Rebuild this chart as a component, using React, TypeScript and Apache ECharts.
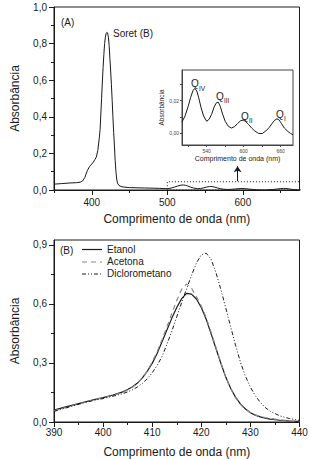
import React, { useEffect, useRef } from "react";
import * as echarts from "echarts";

// ---- Panel (A): full spectrum ----
const mainWavelength = [350, 360, 370, 380, 385, 388, 391, 394, 397, 400, 402, 404, 406, 408, 410, 411, 412, 413, 414, 415, 416, 417, 418, 419, 420, 421, 422, 423, 424, 425, 426, 427, 428, 429, 430, 431, 432, 433, 434, 436, 440, 450, 470, 490];
const mainAbsorbance = [0.032, 0.035, 0.038, 0.04, 0.043, 0.05, 0.07, 0.105, 0.128, 0.142, 0.152, 0.165, 0.18, 0.215, 0.285, 0.33, 0.415, 0.5, 0.59, 0.67, 0.74, 0.8, 0.835, 0.855, 0.862, 0.858, 0.835, 0.79, 0.72, 0.65, 0.575, 0.49, 0.4, 0.315, 0.24, 0.16, 0.1, 0.06, 0.038, 0.025, 0.017, 0.013, 0.011, 0.009];

// Q-band region (used in panel A and in the inset)
const qWavelength = [500, 505, 510, 514, 518, 521, 524, 527, 531, 535, 540, 544, 548, 552, 556, 559, 562, 566, 570, 575, 580, 585, 590, 595, 599, 603, 608, 613, 618, 624, 630, 636, 641, 646, 650, 654, 657, 661, 666, 672, 676, 680];
const qAbsorbance = [0.0068, 0.0105, 0.0165, 0.022, 0.0265, 0.0275, 0.026, 0.022, 0.0155, 0.0105, 0.0072, 0.0085, 0.0115, 0.016, 0.0188, 0.019, 0.0165, 0.0115, 0.0072, 0.0042, 0.003, 0.0038, 0.0058, 0.0075, 0.008, 0.0072, 0.0052, 0.003, 0.0012, -0.0003, -0.0004, 0.0012, 0.0032, 0.0058, 0.0078, 0.0087, 0.0082, 0.006, 0.003, 0.0008, -0.0003, -0.0012];

// ---- Panel (B): Soret band in three solvents ----
const solventWavelength = [390, 392, 394, 396, 398, 400, 402, 404, 405, 406, 407, 408, 409, 410, 411, 412, 413, 414, 415, 416, 417, 418, 419, 420, 421, 422, 423, 424, 425, 426, 427, 428, 429, 430, 431, 432, 433, 434, 436, 438, 440];
const etanol = [0.06, 0.074, 0.087, 0.1, 0.113, 0.124, 0.137, 0.153, 0.165, 0.179, 0.198, 0.224, 0.258, 0.298, 0.348, 0.408, 0.468, 0.528, 0.582, 0.627, 0.654, 0.65, 0.625, 0.582, 0.522, 0.448, 0.372, 0.297, 0.227, 0.17, 0.125, 0.091, 0.066, 0.047, 0.035, 0.026, 0.02, 0.015, 0.009, 0.005, 0.003];
const acetona = [0.057, 0.071, 0.085, 0.099, 0.112, 0.123, 0.135, 0.151, 0.163, 0.177, 0.197, 0.224, 0.26, 0.305, 0.357, 0.418, 0.484, 0.552, 0.618, 0.675, 0.702, 0.68, 0.638, 0.59, 0.53, 0.456, 0.377, 0.3, 0.228, 0.168, 0.122, 0.088, 0.064, 0.047, 0.036, 0.028, 0.022, 0.018, 0.011, 0.006, 0.003];
const diclorometano = [0.054, 0.068, 0.083, 0.097, 0.109, 0.119, 0.131, 0.144, 0.153, 0.164, 0.178, 0.196, 0.22, 0.25, 0.287, 0.333, 0.395, 0.462, 0.535, 0.607, 0.677, 0.745, 0.808, 0.85, 0.858, 0.827, 0.758, 0.672, 0.578, 0.482, 0.388, 0.302, 0.232, 0.177, 0.134, 0.1, 0.074, 0.055, 0.031, 0.017, 0.008];

// ---- Tick values ----
const mainXTicks = [400, 500, 600];
const mainXMinorTicks = [350, 450, 550, 650];
const insetXTicks = [540, 600, 660];
const insetXMinorTicks = [510, 570, 630];
const insetYTicks = [0, 0.02];
const insetYMinorTicks = [0.01, 0.03];
const solventYTicks = [0, 0.3, 0.6, 0.9];
const solventYMinorTicks = [0.15, 0.45, 0.75];

const legendNames = ["Etanol", "Acetona", "Diclorometano"];

const FONT = "'Liberation Sans', Arial, Helvetica, sans-serif";
const INK = "#1a1a1a";
const comma = (v: number, d: number) => v.toFixed(d).replace(".", ",");

const zip = (xs: number[], ys: number[]) => xs.map((x, i) => [x, ys[i]]);

export default function App() {
  const ref = useRef<HTMLDivElement>(null);

  useEffect(() => {
    if (!ref.current) return;
    const chart = echarts.init(ref.current, undefined, { renderer: "svg" });

    const qData = zip(qWavelength, qAbsorbance);
    const mainData = zip(mainWavelength, mainAbsorbance).concat(qData);

    const axisLine = { onZero: false, lineStyle: { color: INK, width: 1 } };
    const tickStyle = { color: INK, width: 1 };

    const option: any = {
      animation: false,
      textStyle: { fontFamily: FONT, color: INK },
      grid: [
        { left: 54, top: 7, width: 245.5, height: 183, show: true, borderColor: INK, borderWidth: 1, backgroundColor: "transparent" },
        { left: 182, top: 70, width: 111, height: 75, show: true, borderColor: "#444", borderWidth: 1, backgroundColor: "#fff" },
        { left: 54, top: 240, width: 245.5, height: 182, show: true, borderColor: INK, borderWidth: 1, backgroundColor: "transparent" },
      ],
      xAxis: [
        {
          gridIndex: 0, type: "value", position: "bottom", min: 350, max: 675,
          axisLine, splitLine: { show: false },
          axisTick: { customValues: mainXTicks, length: 5, lineStyle: tickStyle },
          axisLabel: { customValues: mainXTicks, fontSize: 10, color: INK, margin: 7, fontFamily: FONT },
          name: "Comprimento de onda (nm)", nameLocation: "middle", nameGap: 23,
          nameTextStyle: { fontSize: 12, color: INK, fontFamily: FONT },
        },
        {
          gridIndex: 0, type: "value", position: "bottom", min: 350, max: 675,
          axisLine: { show: false, onZero: false }, splitLine: { show: false },
          axisTick: { customValues: mainXMinorTicks, length: 3, lineStyle: tickStyle },
          axisLabel: { show: false },
        },
        {
          gridIndex: 1, type: "value", position: "bottom", min: 500, max: 680,
          axisLine: { onZero: false, lineStyle: { color: "#444", width: 1 } }, splitLine: { show: false },
          axisTick: { customValues: insetXTicks.concat(insetXMinorTicks), length: 2, lineStyle: { color: "#444" } },
          axisLabel: { customValues: insetXTicks, fontSize: 5, color: "#444", margin: 3, fontFamily: FONT },
          name: "Comprimento de onda (nm)", nameLocation: "middle", nameGap: 10,
          nameTextStyle: { fontSize: 7, color: INK, fontFamily: FONT },
        },
        {
          gridIndex: 2, type: "value", position: "bottom", min: 390, max: 440, interval: 10,
          axisLine, splitLine: { show: false },
          axisTick: { length: 5, lineStyle: tickStyle },
          minorTick: { show: true, splitNumber: 2, length: 3, lineStyle: tickStyle },
          axisLabel: { fontSize: 10, color: INK, margin: 5, fontFamily: FONT },
          name: "Comprimento de onda (nm)", nameLocation: "middle", nameGap: 24,
          nameTextStyle: { fontSize: 12, color: INK, fontFamily: FONT },
        },
      ],
      yAxis: [
        {
          gridIndex: 0, type: "value", position: "left", min: 0, max: 1, interval: 0.2,
          axisLine, splitLine: { show: false },
          axisTick: { length: 5, lineStyle: tickStyle },
          minorTick: { show: true, splitNumber: 2, length: 3, lineStyle: tickStyle },
          axisLabel: { formatter: (v: number) => comma(v, 1), fontSize: 10, color: INK, margin: 7, fontFamily: FONT },
          name: "Absorbância", nameLocation: "middle", nameGap: 33,
          nameTextStyle: { fontSize: 12, color: INK, fontFamily: FONT },
        },
        {
          gridIndex: 1, type: "value", position: "left", min: -0.0075, max: 0.039,
          axisLine: { onZero: false, lineStyle: { color: "#444", width: 1 } }, splitLine: { show: false },
          axisTick: { customValues: insetYTicks.concat(insetYMinorTicks), length: 2, lineStyle: { color: "#444" } },
          axisLabel: { customValues: insetYTicks, formatter: (v: number) => comma(v, 2), fontSize: 5, color: "#444", margin: 3, fontFamily: FONT },
          name: "Absorbância", nameLocation: "middle", nameGap: 14,
          nameTextStyle: { fontSize: 6.5, color: INK, fontFamily: FONT },
        },
        {
          gridIndex: 2, type: "value", position: "left", min: 0, max: 0.925,
          axisLine, splitLine: { show: false },
          axisTick: { customValues: solventYTicks, length: 5, lineStyle: tickStyle },
          axisLabel: { customValues: solventYTicks, formatter: (v: number) => comma(v, 1), fontSize: 10, color: INK, margin: 7, fontFamily: FONT },
          name: "Absorbância", nameLocation: "middle", nameGap: 33,
          nameTextStyle: { fontSize: 12, color: INK, fontFamily: FONT },
        },
        {
          gridIndex: 2, type: "value", position: "left", min: 0, max: 0.925,
          axisLine: { show: false, onZero: false }, splitLine: { show: false },
          axisTick: { customValues: solventYMinorTicks, length: 3, lineStyle: tickStyle },
          axisLabel: { show: false },
        },
      ],
      series: [
        {
          type: "line", name: "A", xAxisIndex: 0, yAxisIndex: 0, data: mainData,
          symbol: "none", lineStyle: { color: INK, width: 1 },
          markArea: {
            silent: true,
            itemStyle: { color: "transparent", borderColor: INK, borderWidth: 1, borderType: [1, 2] },
            data: [[{ coord: [500, 0] }, { coord: [675, 0.045] }]],
          },
          markLine: {
            silent: true, symbol: ["none", "arrow"], symbolSize: 6,
            label: { show: false },
            lineStyle: { color: INK, width: 1, type: "solid" },
            data: [[{ coord: [593, 0.048] }, { coord: [593, 0.13] }]],
          },
        },
        {
          type: "line", name: "Q", xAxisIndex: 2, yAxisIndex: 1, data: qData,
          symbol: "none", lineStyle: { color: INK, width: 1 },
        },
        {
          type: "line", name: legendNames[0], xAxisIndex: 3, yAxisIndex: 2,
          data: zip(solventWavelength, etanol), symbol: "none",
          lineStyle: { color: INK, width: 1.2, type: "solid" },
        },
        {
          type: "line", name: legendNames[1], xAxisIndex: 3, yAxisIndex: 2,
          data: zip(solventWavelength, acetona), symbol: "none",
          lineStyle: { color: "#8a8a8a", width: 1.2, type: [5, 4] },
        },
        {
          type: "line", name: legendNames[2], xAxisIndex: 3, yAxisIndex: 2,
          data: zip(solventWavelength, diclorometano), symbol: "none",
          lineStyle: { color: INK, width: 1, type: [4, 2, 1, 2, 1, 2] },
        },
      ],
      graphic: [
        { type: "text", left: 61, top: 17, style: { text: "(A)", fontSize: 10, fill: INK, fontFamily: FONT } },
        { type: "text", left: 113, top: 28, style: { text: "Soret (B)", fontSize: 10, fill: INK, fontFamily: FONT } },
        { type: "text", left: 191, top: 78, style: { text: "Q", fontSize: 10, fill: INK, fontFamily: FONT } },
        { type: "text", left: 199, top: 85, style: { text: "IV", fontSize: 6.5, fill: INK, fontFamily: FONT } },
        { type: "text", left: 216, top: 91, style: { text: "Q", fontSize: 10, fill: INK, fontFamily: FONT } },
        { type: "text", left: 224, top: 97, style: { text: "III", fontSize: 6.5, fill: INK, fontFamily: FONT } },
        { type: "text", left: 241, top: 111, style: { text: "Q", fontSize: 10, fill: INK, fontFamily: FONT } },
        { type: "text", left: 249, top: 117, style: { text: "II", fontSize: 6.5, fill: INK, fontFamily: FONT } },
        { type: "text", left: 276, top: 109, style: { text: "Q", fontSize: 10, fill: INK, fontFamily: FONT } },
        { type: "text", left: 284, top: 115, style: { text: "I", fontSize: 6.5, fill: INK, fontFamily: FONT } },
        { type: "text", left: 60, top: 245, style: { text: "(B)", fontSize: 10, fill: INK, fontFamily: FONT } },
        // legend
        { type: "line", shape: { x1: 82, y1: 249.5, x2: 102, y2: 249.5 }, style: { stroke: INK, lineWidth: 1.2 } },
        { type: "text", left: 107, top: 244, style: { text: legendNames[0], fontSize: 10, fill: INK, fontFamily: FONT } },
        { type: "line", shape: { x1: 82, y1: 262, x2: 102, y2: 262 }, style: { stroke: "#8a8a8a", lineWidth: 1.2, lineDash: [5, 4] } },
        { type: "text", left: 107, top: 256.5, style: { text: legendNames[1], fontSize: 10, fill: INK, fontFamily: FONT } },
        { type: "line", shape: { x1: 82, y1: 274, x2: 102, y2: 274 }, style: { stroke: INK, lineWidth: 1, lineDash: [4, 2, 1, 2, 1, 2] } },
        { type: "text", left: 107, top: 268.5, style: { text: legendNames[2], fontSize: 10, fill: INK, fontFamily: FONT } },
      ],
    };

    chart.setOption(option);
    return () => chart.dispose();
  }, []);

  return (
    <div
      ref={ref}
      style={{ position: "fixed", left: 0, top: 0, width: 311, height: 459, background: "#fff" }}
    />
  );
}
